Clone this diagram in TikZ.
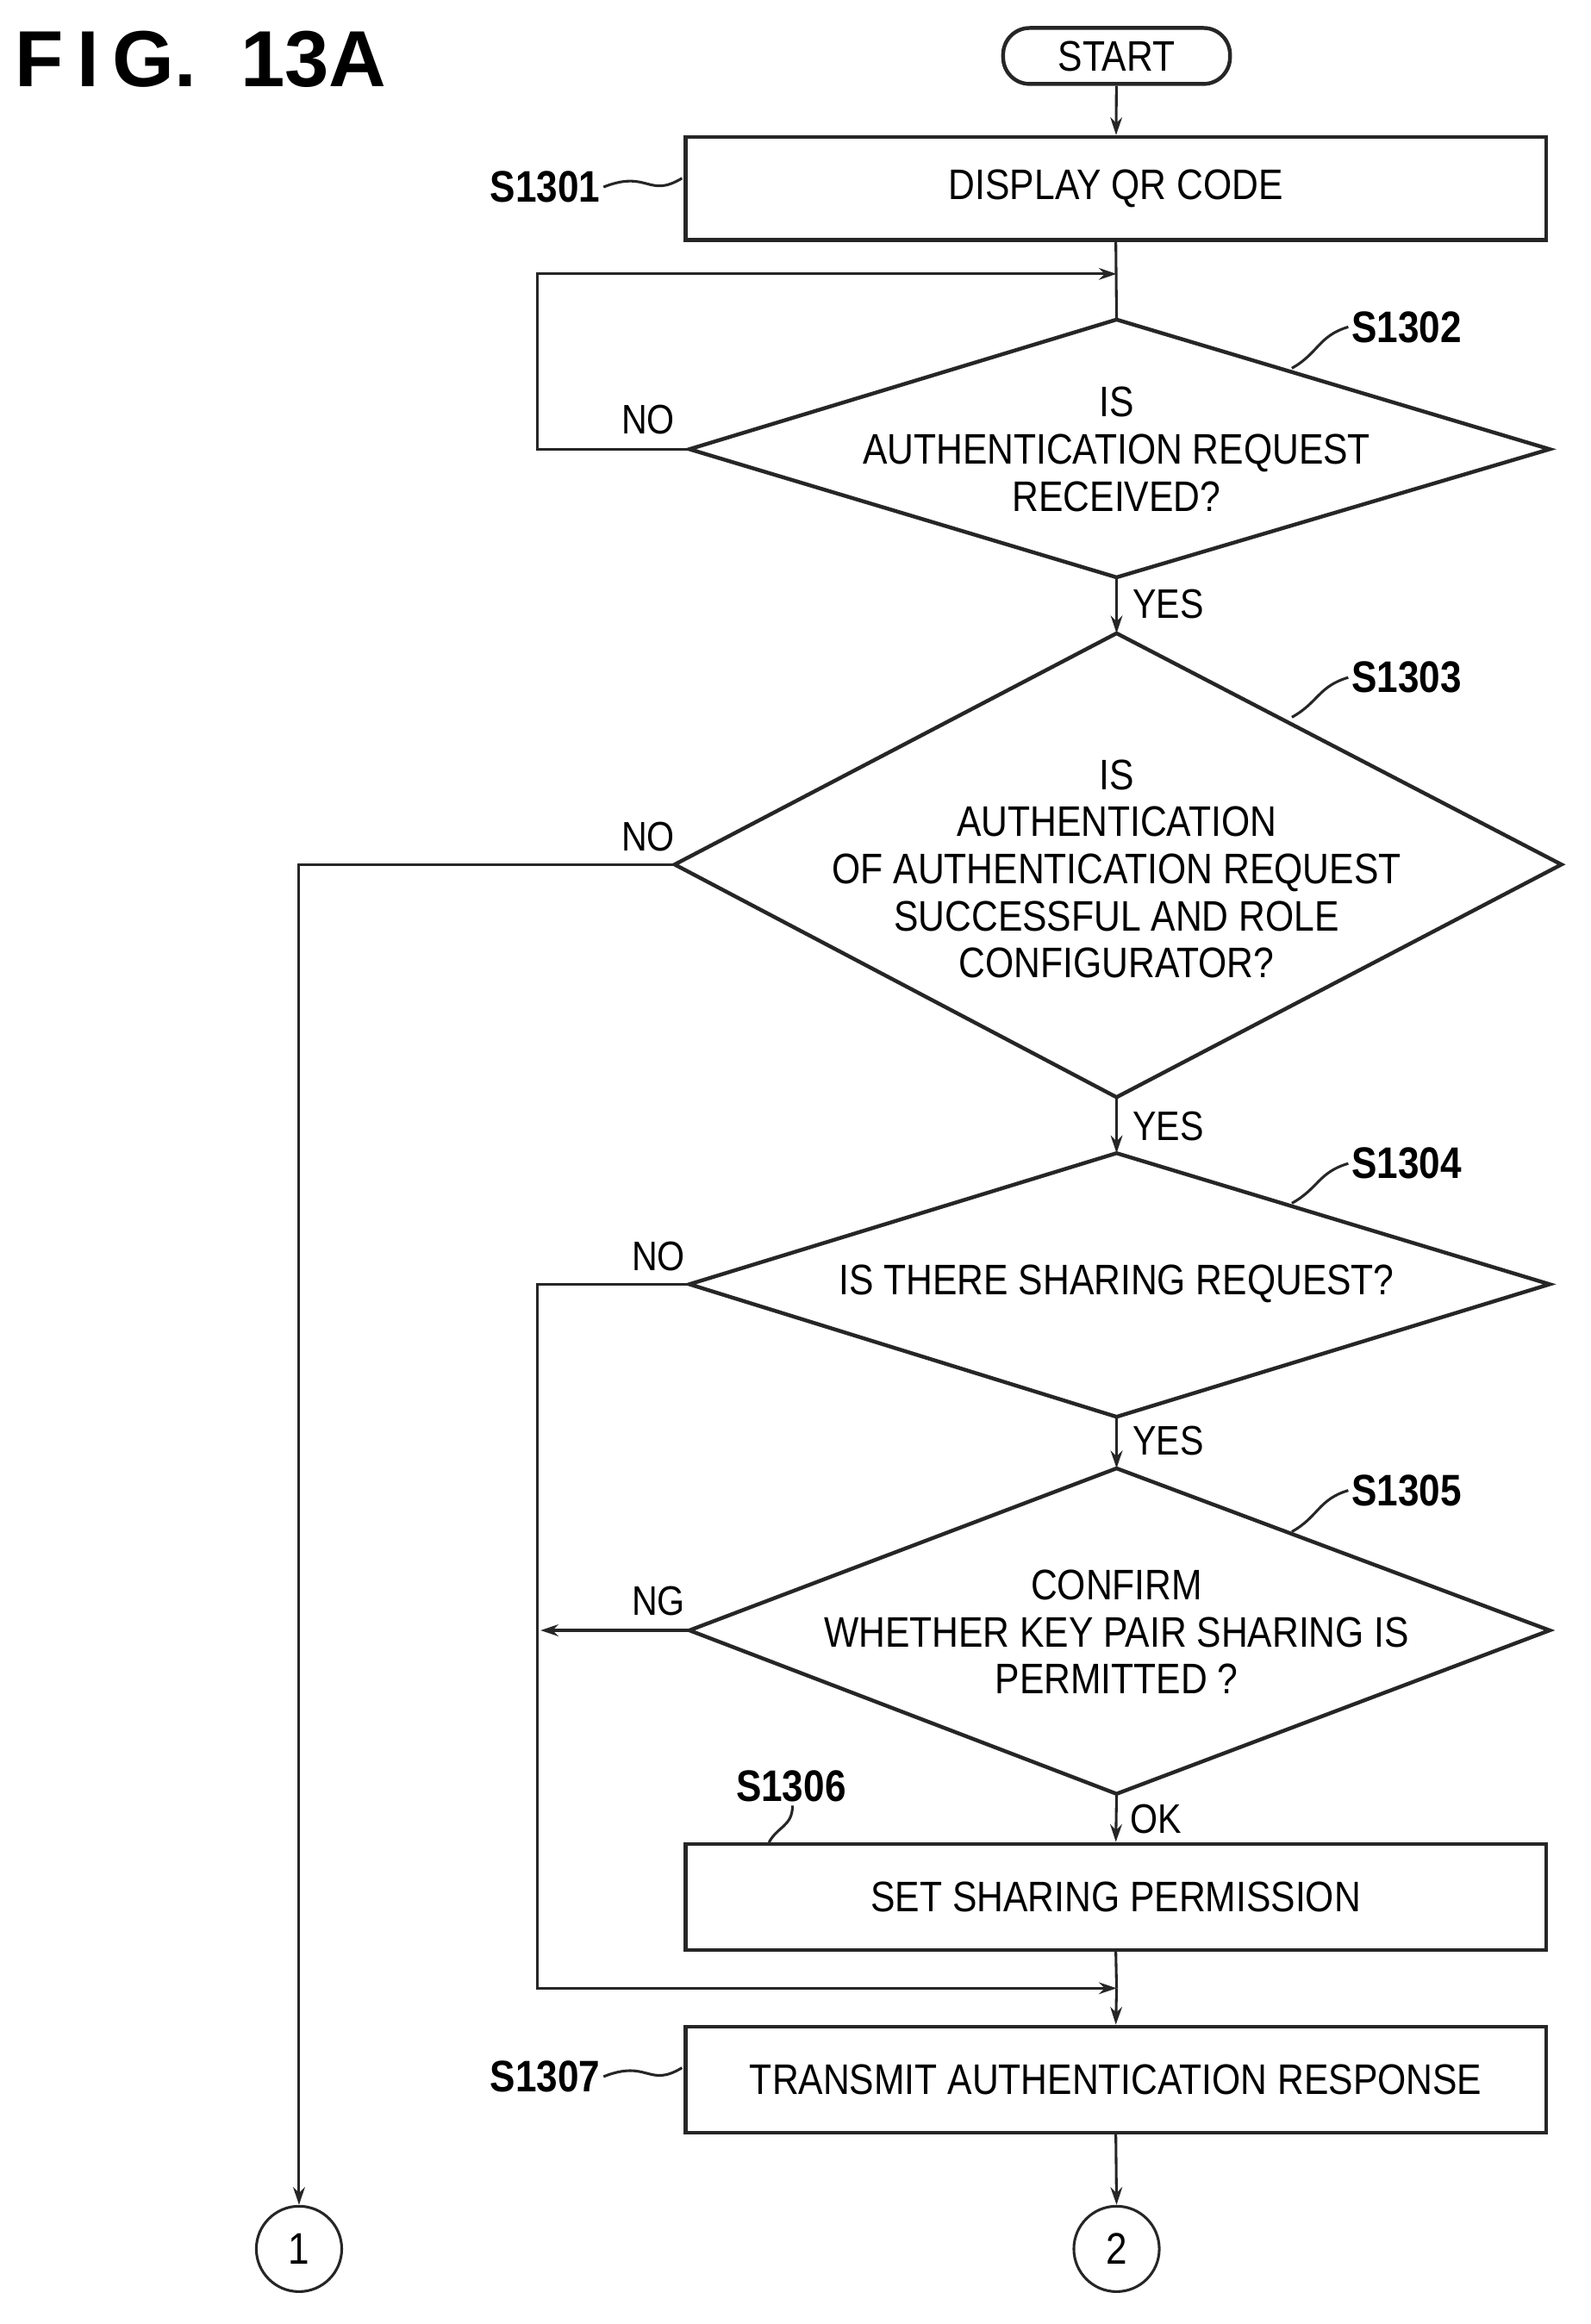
\documentclass[tikz,border=0pt]{standalone}
\usepackage{fontspec}
\setmainfont{Liberation Sans}[FakeStretch=0.86]
\newfontfamily\titlefont{Liberation Sans}
\usetikzlibrary{arrows.meta}
\begin{document}
\begin{tikzpicture}[x=0.5pt,y=-0.5pt,
  ln/.style={line width=0.9pt,draw=black!85},
  arr/.style={ln,-{Stealth[length=6pt,width=4pt]}},
  box/.style={ln,line width=1.3pt},
  txt/.style={font=\fontsize{14.5}{16}\selectfont,align=center,inner sep=0},
  lab/.style={font=\bfseries\fontsize{15}{16}\selectfont,inner sep=1pt},
  yn/.style={font=\fontsize{14}{16}\selectfont,inner sep=1pt}]
\useasboundingbox (0,0) rectangle (1080,1578);
\node[font=\titlefont\bfseries\fontsize{27}{28}\selectfont,anchor=west,inner sep=0] (title) at (10,40) {F\,I\,G.\ \ 13A};
% START
\node[box,rounded corners=9pt,minimum width=77pt,minimum height=19pt,txt] (start) at (758,38) {START};
% S1301
\node[box,minimum width=292pt,minimum height=35pt,txt] (b1) at (757.5,128) {DISPLAY QR CODE};
\node[lab] (l1) at (370,127) {S1301};
\draw[ln] (l1.east) .. controls (440,115) and (440,135) .. (463,121);
\draw[arr] (start) -- (b1);
% D1302
\coordinate (d2t) at (758,217); \coordinate (d2b) at (758,392);
\coordinate (d2l) at (468,305); \coordinate (d2r) at (1052,305);
\draw[box] (d2t)--(d2r)--(d2b)--(d2l)--cycle;
\node[txt] (t2) at (758,305) {IS\\AUTHENTICATION REQUEST\\RECEIVED?};
\node[lab] (l2) at (955,222) {S1302};
\draw[ln] (877,250) .. controls (895,240) and (895,228) .. (l2.west);
\coordinate (m1) at (758,186); \coordinate (c1) at (365,305); \coordinate (c2) at (365,186);
\draw[ln] (b1.south) -- (d2t);
\draw[arr] (d2l) -- (c1) -- (c2) -- (m1);
\node[yn] (no1) at (440,285) {NO};
% D1303
\coordinate (d3t) at (758,430); \coordinate (d3b) at (758,745);
\coordinate (d3l) at (458,587); \coordinate (d3r) at (1060,587);
\draw[box] (d3t)--(d3r)--(d3b)--(d3l)--cycle;
\draw[arr] (d2b) -- (d3t);
\node[yn] (yes1) at (793,410) {YES};
\node[txt] (t3) at (758,590) {IS\\AUTHENTICATION\\OF AUTHENTICATION REQUEST\\SUCCESSFUL AND ROLE\\CONFIGURATOR?};
\node[lab] (l3) at (955,460) {S1303};
\draw[ln] (877,487) .. controls (895,477) and (895,466) .. (l3.west);
\node[yn] (no2) at (440,568) {NO};
\node[circle,ln,minimum size=29pt,inner sep=0,font=\fontsize{15}{16}\selectfont] (o1) at (203,1527) {1};
\coordinate (c3) at (203,587);
\draw[arr] (d3l) -- (c3) -- (o1.north);
% D1304
\coordinate (d4t) at (758,783); \coordinate (d4b) at (758,962);
\coordinate (d4l) at (468,872); \coordinate (d4r) at (1052,872);
\draw[box] (d4t)--(d4r)--(d4b)--(d4l)--cycle;
\draw[arr] (d3b) -- (d4t);
\node[yn] (yes2) at (793,765) {YES};
\node[txt] (t4) at (758,872) {IS THERE SHARING REQUEST?};
\node[lab] (l4) at (955,790) {S1304};
\draw[ln] (877,817) .. controls (895,807) and (895,796) .. (l4.west);
\node[yn] (no3) at (447,853) {NO};
% D1305
\coordinate (d5t) at (758,997); \coordinate (d5b) at (758,1218);
\coordinate (d5l) at (468,1107); \coordinate (d5r) at (1052,1107);
\draw[box] (d5t)--(d5r)--(d5b)--(d5l)--cycle;
\draw[arr] (d4b) -- (d5t);
\node[yn] (yes3) at (793,978) {YES};
\node[txt] (t5) at (758,1108) {CONFIRM\\WHETHER KEY PAIR SHARING IS\\PERMITTED ?};
\node[lab] (l5) at (955,1012) {S1305};
\draw[ln] (877,1040) .. controls (895,1030) and (895,1018) .. (l5.west);
\node[yn] (ng) at (447,1087) {NG};
\coordinate (c4) at (367,1107);
\draw[arr] (d5l) -- (c4);
% S1306
\node[box,minimum width=292pt,minimum height=36pt,txt] (b6) at (757.5,1288) {SET SHARING PERMISSION};
\draw[arr] (d5b) -- (b6.north);
\node[yn] (ok) at (785,1235) {OK};
\node[lab] (l6) at (537,1213) {S1306};
\draw[ln] (538,1226) .. controls (538,1240) and (528,1240) .. (522,1251);
% merge
\coordinate (c5) at (365,872); \coordinate (c6) at (365,1350); \coordinate (m2) at (758,1350);
\draw[arr] (d4l) -- (c5) -- (c6) -- (m2);
% S1307
\node[box,minimum width=292pt,minimum height=36pt,txt] (b7) at (757.5,1412) {TRANSMIT AUTHENTICATION RESPONSE};
\draw[ln] (b6.south) -- (m2);
\draw[arr] (m2) -- (b7.north);
\node[lab] (l7) at (370,1410) {S1307};
\draw[ln] (l7.east) .. controls (440,1398) and (440,1418) .. (463,1404);
\node[circle,ln,minimum size=29pt,inner sep=0,font=\fontsize{15}{16}\selectfont] (o2) at (758,1527) {2};
\draw[arr] (b7.south) -- (o2.north);
\end{tikzpicture}
\end{document}
